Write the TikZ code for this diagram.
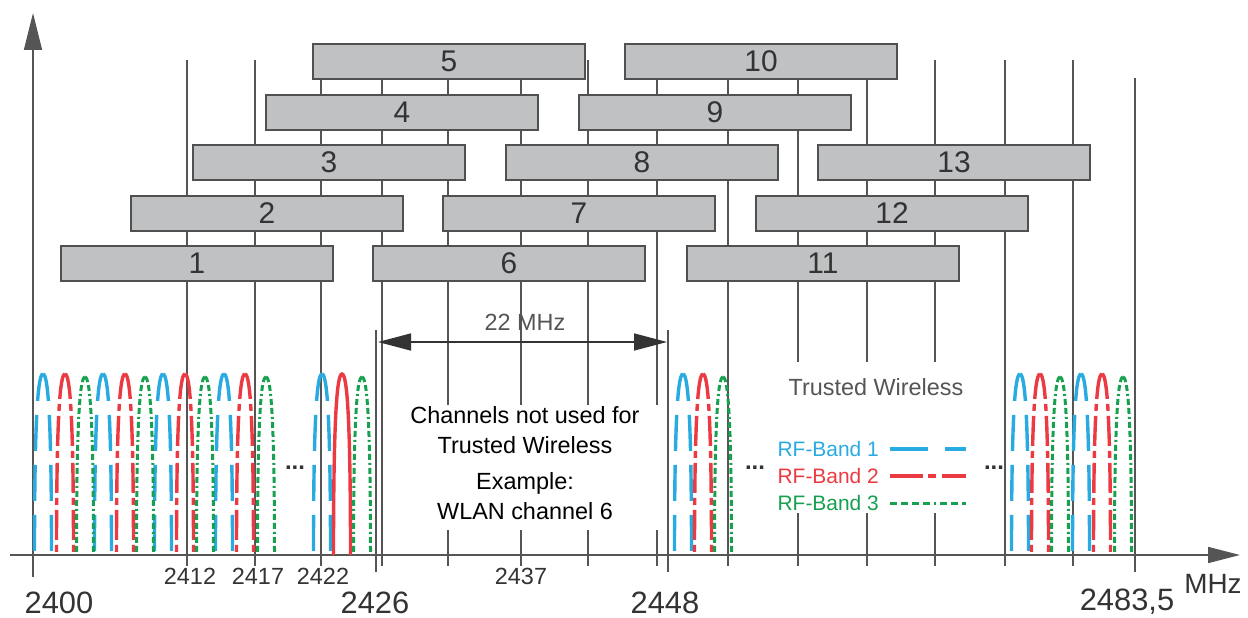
\documentclass[tikz,border=0pt]{standalone}
\usepackage{fontspec}
\setmainfont{Liberation Sans}
\usetikzlibrary{arrows.meta}
\definecolor{gridc}{HTML}{555555}
\definecolor{boxfill}{HTML}{C0C1C3}
\definecolor{boxdraw}{HTML}{505050}
\definecolor{txt}{HTML}{333333}
\definecolor{lbl}{HTML}{555555}
\definecolor{bandA}{HTML}{29ABE2}
\definecolor{bandB}{HTML}{EC3A42}
\definecolor{bandC}{HTML}{16A04F}
\begin{document}
\begin{tikzpicture}[x=1bp,y=-1bp,
  grid/.style={draw=gridc, line width=1.5bp},
  axisline/.style={draw=gridc, line width=1.7bp},
  chbox/.style={draw=boxdraw, fill=boxfill, line width=1.8bp},
  num/.style={text=txt, font=\fontsize{30}{32}\selectfont, inner sep=0pt},
  biglbl/.style={text=txt, font=\fontsize{31}{33}\selectfont, inner sep=0pt},
  smalllbl/.style={text=txt, font=\fontsize{23.5}{26}\selectfont, inner sep=0pt},
  bodytxt/.style={text=black, font=\fontsize{23.5}{26}\selectfont, inner sep=0pt},
  legtxt/.style={font=\fontsize{21}{23}\selectfont, inner sep=0pt},
  dots/.style={text=txt, font=\fontsize{24}{26}\selectfont\bfseries, inner sep=0pt},
  bandAline/.style={draw=bandA, line width=3.4bp, dash pattern=on 36bp off 14bp, dash phase=8bp},
  bandBline/.style={draw=bandB, line width=3.4bp, dash pattern=on 30bp off 5bp on 7bp off 5bp, dash phase=4bp},
  bandBsolid/.style={draw=bandB, line width=3.4bp},
  bandCline/.style={draw=bandC, line width=3bp, dash pattern=on 6bp off 3bp on 6bp off 3bp on 2bp off 3bp},
]
\useasboundingbox (0,0) rectangle (1248,618);

% channel centre lines
\foreach \x in {187,255,321,382,448,521,588,657,728,798,867,935,1005,1073}
  \draw[grid] (\x,60) -- (\x,566);
\draw[grid] (1135,78) -- (1135,572);
\draw[grid] (376,330) -- (376,572);
\draw[grid] (668,330) -- (668,572);

% blank areas behind texts
\fill[white] (392,405) rectangle (662,530);
\fill[white] (740,362) rectangle (990,513);

% channel boxes
\foreach \n/\l/\t in {1/61/246, 2/131/196, 3/193/145, 4/266/95, 5/313/44,
    6/373/246, 7/443/196, 8/506/145, 9/579/95, 10/625/44,
    11/687/246, 12/756/196, 13/818/145} {
  \draw[chbox] (\l,\t) rectangle ++(272,35);
  \node[num] (c\n) at ({\l+136},{\t+17.5}) {\n};
}

% axes
\draw[axisline, -{Triangle[length=37bp,width=18bp]}] (33,577) -- (33,13);
\draw[axisline, -{Triangle[length=32bp,width=16bp]}] (10,555) -- (1240,555);

% 22 MHz dimension
\coordinate (dl) at (378,342);
\coordinate (dr) at (667,342);
\draw[draw=txt, line width=1.6bp, {Triangle[length=33bp,width=17bp]}-{Triangle[length=33bp,width=17bp]}] (dl) -- (dr);
\node[smalllbl, text=lbl] (mhz22) at (525,322) {22 MHz};

% RF band arches
\foreach \c in {43,103,163,224,322,683,1020,1081} {
  \draw[bandAline] (\c,374) .. controls ({\c-5.2},374) and ({\c-8.5},420) .. ({\c-8.5},555);
  \draw[bandAline] (\c,374) .. controls ({\c+5.2},374) and ({\c+8.5},420) .. ({\c+8.5},555);
}
\foreach \c in {65,125,185,245,703,1040,1102} {
  \draw[bandBline] (\c,374) .. controls ({\c-5.2},374) and ({\c-8.5},420) .. ({\c-8.5},555);
  \draw[bandBline] (\c,374) .. controls ({\c+5.2},374) and ({\c+8.5},420) .. ({\c+8.5},555);
}
\draw[bandBsolid] (333.5,555) .. controls (333.5,420) and (336.8,374) .. (342,374)
   .. controls (347.2,374) and (350.5,420) .. (350.5,555);
\foreach \c in {85,145,205,266,362,723,1060,1123} {
  \draw[bandCline] (\c,377) .. controls ({\c-5.2},377) and ({\c-8.5},423) .. ({\c-8.5},555);
  \draw[bandCline] (\c,377) .. controls ({\c+5.2},377) and ({\c+8.5},423) .. ({\c+8.5},555);
}

% ellipses
\node[dots] (e1) at (295,468) {...};
\node[dots] (e2) at (755,468) {...};
\node[dots] (e3) at (994,468) {...};

% centre text
\node[bodytxt] (t1) at (525,415) {Channels not used for};
\node[bodytxt] (t2) at (525,445) {Trusted Wireless};
\node[bodytxt] (t3) at (525,483) {Example:};
\node[bodytxt] (t4) at (525,511) {WLAN channel 6};

% legend
\node[smalllbl, text=lbl] (tw) at (876,387) {Trusted Wireless};
\node[legtxt, text=bandA, anchor=east] (lg1) at (879,449) {RF-Band 1};
\node[legtxt, text=bandB, anchor=east] (lg2) at (879,476) {RF-Band 2};
\node[legtxt, text=bandC, anchor=east] (lg3) at (879,503) {RF-Band 3};
\coordinate (la1) at (890,449); \coordinate (lb1) at (966,449);
\coordinate (la2) at (890,476); \coordinate (lb2) at (966,476);
\coordinate (la3) at (890,503); \coordinate (lb3) at (966,503);
\draw[draw=bandA, line width=3.2bp, dash pattern=on 38bp off 17bp] (la1) -- (lb1);
\draw[draw=bandB, line width=3.2bp, dash pattern=on 33bp off 5bp on 8bp off 6bp] (la2) -- (lb2);
\draw[draw=bandC, line width=3bp, dash pattern=on 7bp off 4bp on 7bp off 4bp on 7bp off 4bp on 7bp off 4bp on 2bp off 4bp] (la3) -- (lb3);

% axis labels
\node[biglbl] (x2400) at (59,603) {2400};
\node[biglbl] (x2426) at (375,603) {2426};
\node[biglbl] (x2448) at (665,603) {2448};
\node[biglbl] (x2483) at (1127,602) {2483,5};
\node[font=\fontsize{28}{30}\selectfont, text=txt, inner sep=0pt] (unit) at (1213,584) {MHz};
\node[smalllbl] (x2412) at (190,576) {2412};
\node[smalllbl] (x2417) at (258,576) {2417};
\node[smalllbl] (x2422) at (323,576) {2422};
\node[smalllbl] (x2437) at (521,576) {2437};
\end{tikzpicture}
\end{document}
